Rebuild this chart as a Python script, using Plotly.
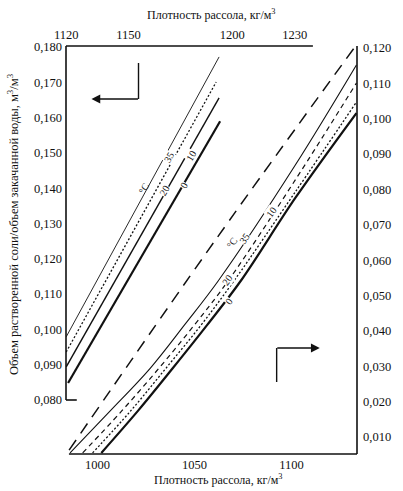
import plotly.graph_objects as go

# ---------------- data ----------------
# Upper-left family: top density axis (kg/m3) vs left volume axis
up_35_x = [1120.0, 1193.6]
up_35_y = [0.0979, 0.1772]
up_20_x = [1120.0, 1192.2]
up_20_y = [0.0936, 0.1701]
up_10_x = [1120.0, 1193.6]
up_10_y = [0.0894, 0.1656]
up_0_x = [1120.9, 1194.1]
up_0_y = [0.0848, 0.1590]

# Lower-right family: bottom density axis vs right volume axis
lo_sat_x = [985.4, 1061.6, 1132.3]
lo_sat_y = [0.0063, 0.0663, 0.1200]
lo_35_x = [985.9, 1006.1, 1027.3, 1044.9, 1062.6, 1102.0, 1133.5]
lo_35_y = [0.0055, 0.0171, 0.0295, 0.0417, 0.0544, 0.0869, 0.1152]
lo_20_x = [992.4, 1012.1, 1031.8, 1050.0, 1067.7, 1102.0, 1133.5]
lo_20_y = [0.0055, 0.0171, 0.0295, 0.0417, 0.0544, 0.0827, 0.1101]
lo_10_x = [997.5, 1016.7, 1035.4, 1053.5, 1070.7, 1102.0, 1133.5]
lo_10_y = [0.0055, 0.0171, 0.0295, 0.0417, 0.0544, 0.0793, 0.1047]
lo_0_x = [1002.0, 1021.2, 1038.9, 1056.6, 1074.2, 1102.0, 1133.5]
lo_0_y = [0.0055, 0.0176, 0.0295, 0.0417, 0.0544, 0.0776, 0.1016]

top_ticks = [1120, 1150, 1200, 1230]
bottom_ticks = [1000, 1050, 1100]
left_ticks = [0.08, 0.09, 0.10, 0.11, 0.12, 0.13, 0.14, 0.15, 0.16, 0.17, 0.18]
right_ticks = [0.01, 0.02, 0.03, 0.04, 0.05, 0.06, 0.07, 0.08, 0.09, 0.10, 0.11, 0.12]

x_title = "Плотность рассола, кг/м<sup>3</sup>"
y_title = "Объем растворенной соли/объем закачанной воды, м<sup>3</sup>/м<sup>3</sup>"

# ---------------- layout helpers ----------------
W, H = 403, 491
L, R, T, B = 66, 40, 46, 37
PW, PH = W - L - R, H - T - B


def px(x, y):
    return (x - L) / PW, (H - B - y) / PH


FONT = "Liberation Serif"
INK = "#111111"

fig = go.Figure()


def line(x, y, xa, ya, width, dash="solid", shape="linear"):
    fig.add_trace(go.Scatter(x=x, y=y, xaxis=xa, yaxis=ya, mode="lines",
                             line=dict(color=INK, width=width, dash=dash, shape=shape),
                             hoverinfo="skip", showlegend=False))


line(up_35_x, up_35_y, "x2", "y", 0.9)
line(up_20_x, up_20_y, "x2", "y", 1.3, "2px,2px")
line(up_10_x, up_10_y, "x2", "y", 1.4)
line(up_0_x, up_0_y, "x2", "y", 2.2)

line(lo_sat_x, lo_sat_y, "x", "y2", 1.5, "12px,8px", "spline")
line(lo_35_x, lo_35_y, "x", "y2", 1.1, "solid", "spline")
line(lo_20_x, lo_20_y, "x", "y2", 1.2, "5px,4px", "spline")
line(lo_10_x, lo_10_y, "x", "y2", 1.3, "2px,2px", "spline")
line(lo_0_x, lo_0_y, "x", "y2", 2.2, "solid", "spline")

axis_common = dict(showgrid=False, zeroline=False, showline=False, ticks="",
                   domain=[0, 1], tickfont=dict(family=FONT, size=12.5, color=INK))

fig.update_layout(
    width=W, height=H,
    margin=dict(l=L, r=R, t=T, b=B),
    paper_bgcolor="white", plot_bgcolor="rgba(0,0,0,0)",
    separators=", ",
    showlegend=False,
    xaxis=dict(range=[983.8, 1133.8], tickvals=bottom_ticks, side="bottom",
               anchor="y2", ticklabelstandoff=1, **axis_common),
    yaxis2=dict(range=[0.00519, 0.12057], tickvals=right_ticks, tickformat=".3f",
                side="right", anchor="x", ticklabelstandoff=5, **axis_common),
    xaxis2=dict(range=[1119.9, 1260.0], tickvals=top_ticks, side="top",
                anchor="y", ticklabelstandoff=4, **axis_common),
    yaxis=dict(range=[0.0647, 0.1803], tickvals=left_ticks, tickformat=".3f",
               side="left", anchor="x2", ticklabelstandoff=3, **axis_common),
)

# spines
SP = dict(color=INK, width=1.6)
shapes = [
    dict(type="line", xref="paper", yref="y", x0=0, x1=0, y0=0.080, y1=0.1803, line=SP),
    dict(type="line", xref="paper", yref="y", x0=0, x1=11 / PW, y0=0.080, y1=0.080, line=SP),
    dict(type="line", xref="paper", yref="paper", x0=0, x1=(318 - L) / PW, y0=1, y1=1, line=SP),
    dict(type="line", xref="paper", yref="paper", x0=1, x1=1, y0=0, y1=1, line=SP),
    dict(type="line", xref="paper", yref="paper", x0=3 / PW, x1=1, y0=0, y1=0, line=SP),
]
# arrow stems
for (xa, ya), (xb, yb) in [((140, 63), (140, 99)), ((281, 382), (281, 348))]:
    p0, p1 = px(xa, ya), px(xb, yb)
    shapes.append(dict(type="line", xref="paper", yref="paper",
                       x0=p0[0], y0=p0[1], x1=p1[0], y1=p1[1],
                       line=dict(color=INK, width=1.4)))
fig.update_layout(shapes=shapes)

ann = []
# arrows
for tip, dx in [((92, 99), 48), ((325, 348), -44)]:
    t = px(*tip)
    ann.append(dict(xref="paper", yref="paper", x=t[0], y=t[1], ax=dx, ay=0,
                    showarrow=True, arrowhead=2, arrowsize=1.1, arrowwidth=1.6,
                    arrowcolor=INK, text=""))

# curve labels
lab_font = dict(family=FONT, size=10, color=INK)
for txt, (x, y), ang, bg in [
    ("°C", (136, 188), -60, False), ("35", (171, 149), -60, True),
    ("20", (158, 191), -60, True), ("10", (194, 147), -60, True),
    ("0", (186, 185), -60, True),
    ("°C", (236, 243), -54, False), ("35", (248, 238), -54, True),
    ("20", (230, 280), -54, True), ("10", (284, 212), -54, True),
    ("0", (232, 301), -54, True),
]:
    p = px(x, y)
    a = dict(xref="paper", yref="paper", x=p[0], y=p[1], text=txt,
             textangle=ang, showarrow=False, font=lab_font, borderpad=0)
    if bg:
        a["bgcolor"] = "white"
    ann.append(a)

# axis titles
for txt, (x, y), ang, sz in [(x_title, (215, 14), 0, 12), (x_title, (222, 479), 0, 12),
                             (y_title, (12, 224), -90, 12.5)]:
    p = px(x, y)
    ann.append(dict(xref="paper", yref="paper", x=p[0], y=p[1], text=txt,
                    textangle=ang, showarrow=False,
                    font=dict(family=FONT, size=sz, color=INK),
                    xanchor="center", yanchor="middle"))

fig.update_layout(annotations=ann)

fig.write_html("out.html", config={"displayModeBar": False},
               post_script="document.body.style.margin='0px';")
